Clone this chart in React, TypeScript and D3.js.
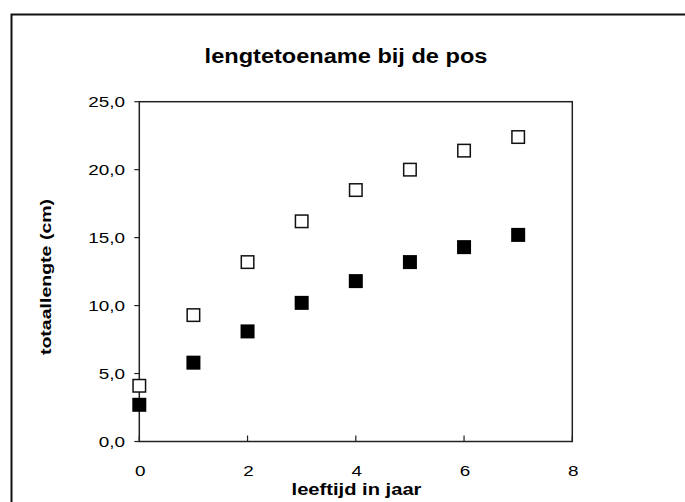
import React, { useEffect, useRef } from 'react';
import * as d3 from 'd3';

// leeftijd (jaar)
const ages = [0, 1, 2, 3, 4, 5, 6, 7];
// open markers: upper series
const seriesOpen = [4.1, 9.3, 13.2, 16.2, 18.5, 20.0, 21.4, 22.4];
// filled markers: lower series
const seriesFilled = [2.7, 5.8, 8.1, 10.2, 11.8, 13.2, 14.3, 15.2];
const yTicks = [0, 5, 10, 15, 20, 25];
const xTicks = [0, 2, 4, 6, 8];

const App: React.FC = () => {
  const svgRef = useRef<SVGSVGElement | null>(null);

  useEffect(() => {
    if (!svgRef.current) return;
    const W = 685;
    const H = 502;
    const svg = d3.select(svgRef.current).attr('width', W).attr('height', H);
    svg.selectAll('*').remove();

    const font = 'Arial, "Liberation Sans", Helvetica, sans-serif';
    const stretch = 1.26;

    const plot = { left: 139.3, right: 572.3, top: 101.7, bottom: 441.5 };
    const x = d3.scaleLinear().domain([0, 8]).range([plot.left, plot.right]);
    const y = d3.scaleLinear().domain([0, 25]).range([plot.bottom, plot.top]);
    const fmt = (v: number) => d3.format('.1f')(v).replace('.', ',');

    // outer chart border
    svg.append('rect')
      .attr('x', 11.5).attr('y', 14.5)
      .attr('width', W + 20).attr('height', H + 20)
      .attr('fill', 'white')
      .attr('stroke', '#111').attr('stroke-width', 2);

    // title
    svg.append('text')
      .attr('transform', `translate(346, 62.5) scale(1.15, 1)`)
      .attr('text-anchor', 'middle')
      .attr('font-family', font).attr('font-weight', 'bold').attr('font-size', 20.5)
      .text('lengtetoename bij de pos');

    // plot frame
    svg.append('rect')
      .attr('x', plot.left).attr('y', plot.top)
      .attr('width', plot.right - plot.left).attr('height', plot.bottom - plot.top)
      .attr('fill', 'white')
      .attr('stroke', '#222').attr('stroke-width', 1.5);

    // y axis ticks (outside) + labels
    const yg = svg.append('g');
    yTicks.forEach(t => {
      yg.append('line')
        .attr('x1', plot.left - 5).attr('x2', plot.left)
        .attr('y1', y(t)).attr('y2', y(t))
        .attr('stroke', '#222').attr('stroke-width', 1.2);
      yg.append('text')
        .attr('transform', `translate(125, ${y(t) + 5.3}) scale(${stretch}, 1)`)
        .attr('text-anchor', 'end')
        .attr('font-family', font).attr('font-size', 15)
        .text(fmt(t));
    });

    // x axis ticks (inside) + labels
    const xg = svg.append('g');
    xTicks.forEach(t => {
      xg.append('line')
        .attr('x1', x(t)).attr('x2', x(t))
        .attr('y1', plot.bottom - 6).attr('y2', plot.bottom)
        .attr('stroke', '#222').attr('stroke-width', 1.2);
      xg.append('text')
        .attr('transform', `translate(${x(t) + 1}, 476) scale(${stretch}, 1)`)
        .attr('text-anchor', 'middle')
        .attr('font-family', font).attr('font-size', 15)
        .text(String(t));
    });

    // axis titles
    svg.append('text')
      .attr('transform', `translate(356.5, 495) scale(${stretch}, 1)`)
      .attr('text-anchor', 'middle')
      .attr('font-family', font).attr('font-weight', 'bold').attr('font-size', 16)
      .text('leeftijd in jaar');

    svg.append('text')
      .attr('transform', `translate(51, 277) rotate(-90) scale(${stretch}, 1)`)
      .attr('text-anchor', 'middle')
      .attr('font-family', font).attr('font-weight', 'bold').attr('font-size', 15.5)
      .text('totaallengte (cm)');

    // markers
    const size = 14;
    svg.append('g').selectAll('rect')
      .data(ages.map((a, i) => ({ a, v: seriesOpen[i] })))
      .enter().append('rect')
      .attr('x', d => x(d.a) - size / 2 + 0.75)
      .attr('y', d => y(d.v) - size / 2 + 0.75)
      .attr('width', size - 1.5).attr('height', size - 1.5)
      .attr('fill', 'white')
      .attr('stroke', '#111').attr('stroke-width', 1.5);

    svg.append('g').selectAll('rect')
      .data(ages.map((a, i) => ({ a, v: seriesFilled[i] })))
      .enter().append('rect')
      .attr('x', d => x(d.a) - size / 2)
      .attr('y', d => y(d.v) - size / 2)
      .attr('width', size).attr('height', size)
      .attr('fill', '#000');
  }, []);

  return (
    <div style={{ position: 'absolute', left: 0, top: 0 }}>
      <svg ref={svgRef} style={{ display: 'block' }} />
    </div>
  );
};

export default App;
